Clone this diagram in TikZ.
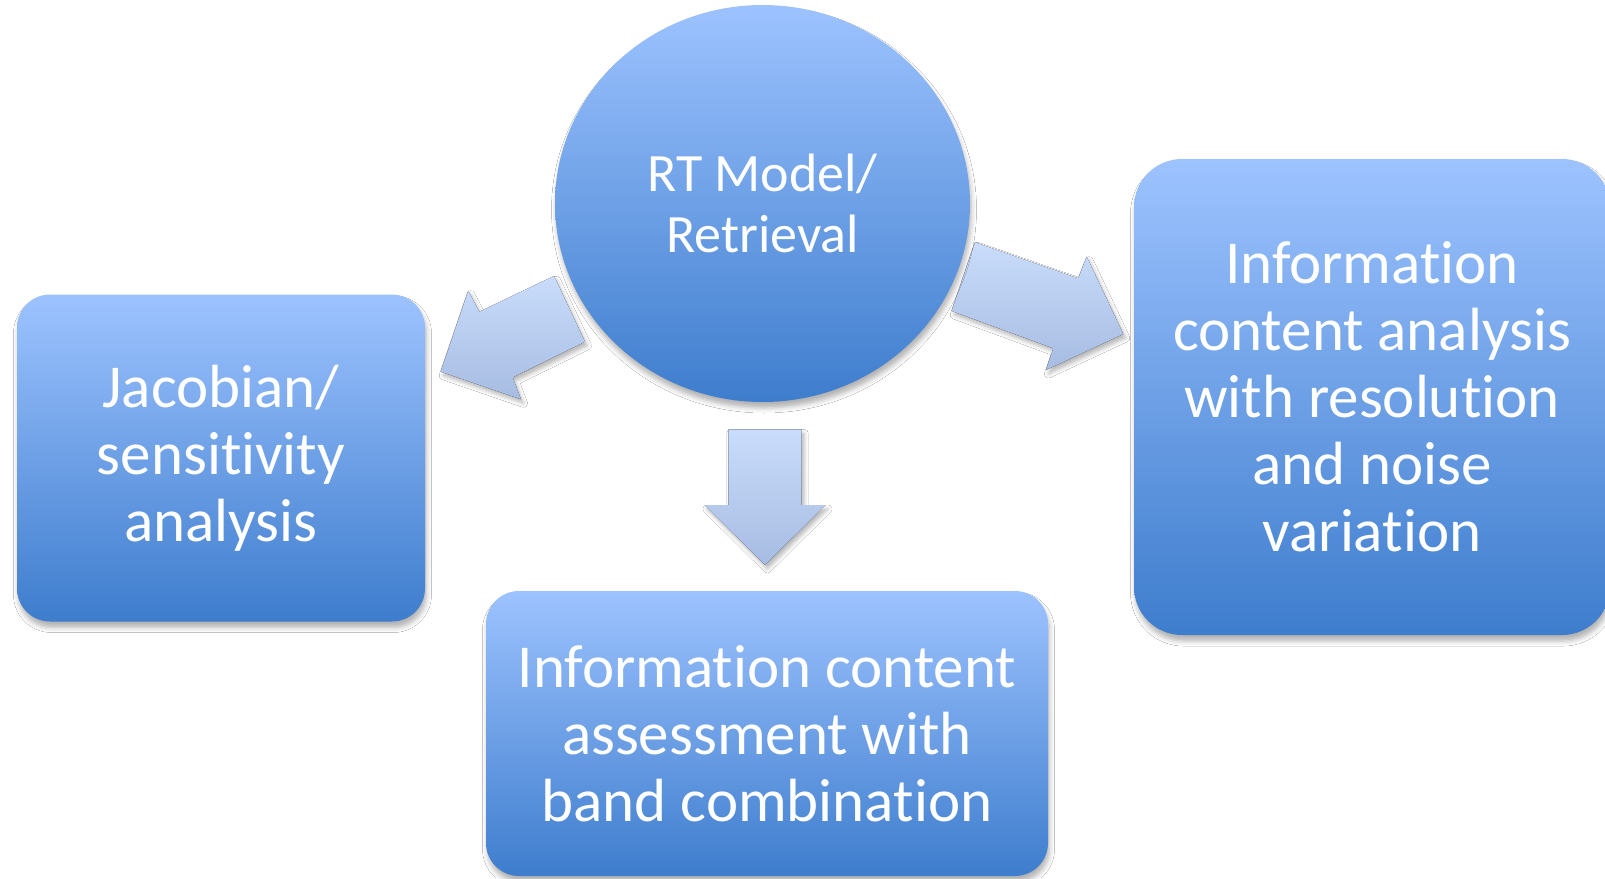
\documentclass[tikz,border=0pt]{standalone}
\usepackage{fontspec}
\setmainfont{Carlito}[Ligatures={NoCommon,NoContextual,NoRequired},Contextuals=NoAlternate]
\usetikzlibrary{shapes.geometric,shadows.blur}
\definecolor{boxTop}{RGB}{157,195,255}
\definecolor{boxBot}{RGB}{62,125,205}
\definecolor{arrTop}{RGB}{201,220,251}
\definecolor{arrBot}{RGB}{167,188,226}
\newcommand{\nolg}{\kern0pt{}}
\begin{document}
\begin{tikzpicture}[x=1pt,y=-1pt,
  softshadow/.style={blur shadow={shadow xshift=1.5pt,shadow yshift=-6pt,shadow blur radius=5pt,shadow opacity=30}},
  bluefill/.style={top color=boxTop,bottom color=boxBot,draw=none,inner sep=0pt,text=white,align=center,softshadow},
  bluebox/.style={bluefill,rectangle,rounded corners=#1,font=\fontsize{61}{67}\selectfont},
  bluecircle/.style={bluefill,ellipse,font=\fontsize{54}{61}\selectfont},
  blockarrow/.style={top color=arrTop,bottom color=arrBot,draw=none,blur shadow={shadow xshift=2.5pt,shadow yshift=-4pt,shadow blur radius=4pt,shadow opacity=28}}]
\useasboundingbox (0,0) rectangle (1605,878);
\fill[white] (0,0) rectangle (1605,878);
\clip (0,0) rectangle (1605,878);

% block arrows
\fill[blockarrow] (554,276) -- (479.3,311.7) -- (468.3,290.7) -- (440.7,371.7) -- (521,399.3) -- (512.7,377.3) -- (585,341.7) -- cycle;
\fill[blockarrow] (975,242.3) -- (1078.3,278.3) -- (1086.7,256.7) -- (1123.3,334) -- (1046,370) -- (1053.3,348.3) -- (951.7,311) -- cycle;
\fill[blockarrow] (728.3,429.3) -- (801.7,429.3) -- (801.7,505) -- (825.5,505) -- (765,565) -- (704.5,505) -- (728.3,505) -- cycle;

% nodes
\node[bluecircle,minimum width=415pt,minimum height=397pt] (rt) at (762.5,203.5) {RT Model/\\Retrieval};
\node[bluebox=33pt,minimum width=408pt,minimum height=327pt] (jac) at (221,458) {Jacobian/\\sensit\nolg ivity\\analysis};
\node[bluebox=33pt,minimum width=562pt,minimum height=285pt] (band) at (767,733.5) {Informat\nolg ion content\\assessment with\\band combinat\nolg ion};
\node[bluebox=48pt,minimum width=476pt,minimum height=476pt] (info) at (1372,397) {Informat\nolg ion\\content analysis\\with resolut\nolg ion\\and noise\\variat\nolg ion};
\end{tikzpicture}
\end{document}
